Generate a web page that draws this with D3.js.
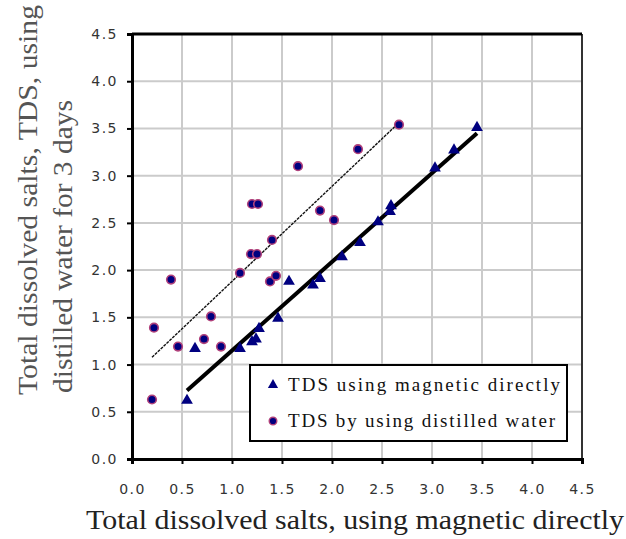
<!DOCTYPE html>
<html>
<head>
<meta charset="utf-8">
<script src="https://cdn.jsdelivr.net/npm/d3@7"></script>
<style>
  body { margin: 0; background: #fff; }
  svg { display: block; }
</style>
</head>
<body>
<div id="chart"></div>
<script>
// TDS using magnetic directly (triangles)
var magX = [0.55, 0.63, 1.08, 1.20, 1.24, 1.27, 1.46, 1.57, 1.81, 1.88, 2.10, 2.28, 2.46, 2.58, 2.59, 3.03, 3.22, 3.45];
var magY = [0.62, 1.17, 1.17, 1.24, 1.27, 1.38, 1.49, 1.88, 1.84, 1.91, 2.14, 2.29, 2.51, 2.62, 2.68, 3.08, 3.27, 3.51];

// TDS by using distilled water (circles)
var distX = [0.20, 0.22, 0.39, 0.46, 0.72, 0.79, 0.89, 1.08, 1.19, 1.25, 1.20, 1.26, 1.38, 1.44, 1.40, 1.66, 1.88, 2.02, 2.26, 2.67];
var distY = [0.63, 1.39, 1.90, 1.19, 1.27, 1.51, 1.19, 1.97, 2.17, 2.17, 2.70, 2.70, 1.88, 1.94, 2.32, 3.10, 2.63, 2.53, 3.28, 3.54];

var tickValues = [0, 0.5, 1.0, 1.5, 2.0, 2.5, 3.0, 3.5, 4.0, 4.5];
var legendLabels = ["TDS  using magnetic directly", "TDS by using distilled water"];

var W = 626, H = 539;
var m = {left: 132, top: 34, right: 44, bottom: 80};
var serif = "'Liberation Serif', 'Times New Roman', Times, serif";

var svg = d3.select('#chart').append('svg')
  .attr('width', W).attr('height', H);

var x = d3.scaleLinear().domain([0, 4.5]).range([m.left, W - m.right]);
var y = d3.scaleLinear().domain([0, 4.5]).range([H - m.bottom, m.top]);

// grid
var grid = svg.append('g');
grid.selectAll('line.v').data(tickValues.slice(1, -1)).enter().append('line')
  .attr('x1', x).attr('x2', x).attr('y1', y(0)).attr('y2', y(4.5))
  .attr('stroke', '#cbcbcb').attr('stroke-width', 2);
grid.selectAll('line.h').data(tickValues.slice(1, -1)).enter().append('line')
  .attr('y1', y).attr('y2', y).attr('x1', x(0)).attr('x2', x(4.5))
  .attr('stroke', '#cbcbcb').attr('stroke-width', 2);

// frame
svg.append('line').attr('x1', x(4.5)).attr('x2', x(4.5)).attr('y1', y(0)).attr('y2', y(4.5))
  .attr('stroke', '#333').attr('stroke-width', 2);
svg.append('line').attr('x1', x(0)).attr('x2', x(4.5)).attr('y1', y(4.5)).attr('y2', y(4.5))
  .attr('stroke', '#000').attr('stroke-width', 3);

// axes
var fmt = d3.format('.1f');
var xAxis = svg.append('g').attr('transform', 'translate(0,' + y(0) + ')')
  .call(d3.axisBottom(x).tickValues(tickValues).tickFormat(fmt).tickSize(5).tickPadding(20));
var yAxis = svg.append('g').attr('transform', 'translate(' + x(0) + ',0)')
  .call(d3.axisLeft(y).tickValues(tickValues).tickFormat(fmt).tickSize(5).tickPadding(9));

[xAxis, yAxis].forEach(function (a) {
  a.select('.domain').attr('stroke', '#000').attr('stroke-width', 3);
  a.selectAll('.tick line').attr('stroke', '#000').attr('stroke-width', 2);
  a.selectAll('.tick text')
    .attr('fill', '#333')
    .style('font-family', 'DejaVu Sans, sans-serif')
    .style('font-size', '14px')
    .style('letter-spacing', '1.5px');
});

// least squares trend line
function trend(xs, ys) {
  var mx = d3.mean(xs), my = d3.mean(ys);
  var sxy = d3.sum(xs, function (v, i) { return (v - mx) * (ys[i] - my); });
  var sxx = d3.sum(xs, function (v) { return (v - mx) * (v - mx); });
  var b = sxy / sxx, a = my - b * mx;
  var x0 = d3.min(xs), x1 = d3.max(xs);
  return [[x0, a + b * x0], [x1, a + b * x1]];
}
var line = d3.line().x(function (d) { return x(d[0]); }).y(function (d) { return y(d[1]); });

svg.append('path').attr('d', line(trend(distX, distY)))
  .attr('fill', 'none').attr('stroke', '#111').attr('stroke-width', 1.4)
  .attr('stroke-dasharray', '3,1');
svg.append('path').attr('d', line(trend(magX, magY)))
  .attr('fill', 'none').attr('stroke', '#000').attr('stroke-width', 4);

// markers
var tri = d3.symbol().type(d3.symbolTriangle).size(60);
svg.append('g').selectAll('path').data(magX).enter().append('path')
  .attr('d', tri)
  .attr('transform', function (d, i) { return 'translate(' + x(d) + ',' + y(magY[i]) + ')'; })
  .attr('fill', '#000080');

svg.append('g').selectAll('circle').data(distX).enter().append('circle')
  .attr('cx', function (d) { return x(d); })
  .attr('cy', function (d, i) { return y(distY[i]); })
  .attr('r', 4.3)
  .attr('fill', '#000080').attr('stroke', '#b0407a').attr('stroke-width', 1.6);

// legend
var lg = svg.append('g').attr('transform', 'translate(250,365)');
lg.append('rect').attr('width', 317).attr('height', 76)
  .attr('fill', '#fff').attr('stroke', '#000').attr('stroke-width', 2);
lg.append('path').attr('d', d3.symbol().type(d3.symbolTriangle).size(45))
  .attr('transform', 'translate(23,20)').attr('fill', '#000080');
lg.append('circle').attr('cx', 23).attr('cy', 56).attr('r', 3.8)
  .attr('fill', '#000080').attr('stroke', '#b0407a').attr('stroke-width', 1.4);
var lw = [272, 267];
lg.selectAll('text').data(legendLabels).enter().append('text')
  .attr('x', 38).attr('y', function (d, i) { return 26 + i * 36; })
  .attr('textLength', function (d, i) { return lw[i]; })
  .attr('lengthAdjust', 'spacing')
  .style('font-family', serif).style('font-size', '19px')
  .attr('fill', '#111')
  .text(function (d) { return d; });

// axis titles
svg.append('text').attr('x', 86).attr('y', 529)
  .attr('textLength', 538).attr('lengthAdjust', 'spacingAndGlyphs')
  .style('font-family', serif).style('font-size', '27px')
  .attr('fill', '#222')
  .text('Total dissolved salts, using magnetic directly');

svg.append('text').attr('transform', 'translate(37,395) rotate(-90)')
  .attr('textLength', 390).attr('lengthAdjust', 'spacingAndGlyphs')
  .style('font-family', serif).style('font-size', '27px')
  .attr('fill', '#555')
  .text('Total dissolved salts, TDS, using');
svg.append('text').attr('transform', 'translate(72,393) rotate(-90)')
  .attr('textLength', 293).attr('lengthAdjust', 'spacingAndGlyphs')
  .style('font-family', serif).style('font-size', '27px')
  .attr('fill', '#555')
  .text('distilled water for 3 days');
</script>
</body>
</html>
